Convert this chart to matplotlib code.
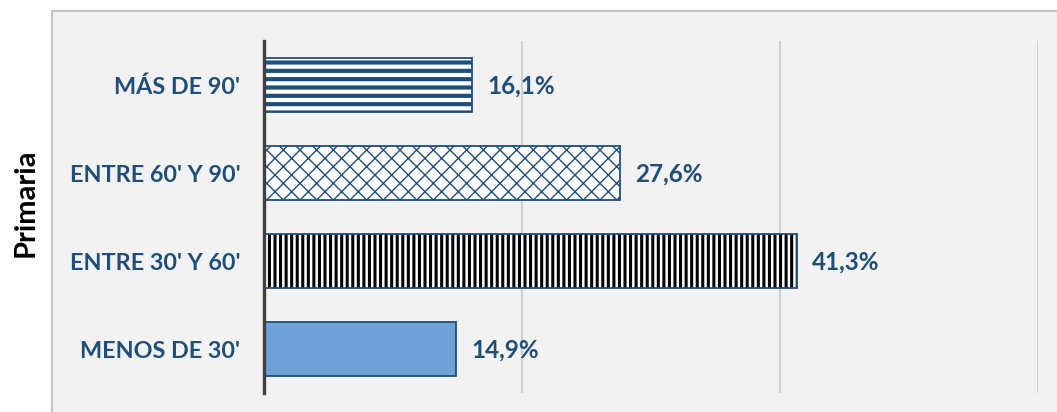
import matplotlib
matplotlib.use("Agg")
import matplotlib.pyplot as plt
from matplotlib.patches import Rectangle

categories = ["MENOS DE 30'", "ENTRE 30' Y 60'", "ENTRE 60' Y 90'", "MÁS DE 90'"]
values = [14.9, 41.3, 27.6, 16.1]
value_labels = ["14,9%", "41,3%", "27,6%", "16,1%"]
group_label = "Primaria"

DARK_BLUE = "#1f4e79"
LIGHT_BLUE = "#6fa3d8"
# fill, hatch, hatch color, hatch linewidth
styles = [
    (LIGHT_BLUE, None, None, 1.0),
    ("white", "|||", "black", 2.2),
    ("white", "xx", DARK_BLUE, 1.0),
    ("white", "--", DARK_BLUE, 3.0),
]

plt.rcParams["font.family"] = ["Lato", "DejaVu Sans"]

fig = plt.figure(figsize=(10.57, 4.12), dpi=100)
fig.patch.set_facecolor("white")
fig.patches.append(Rectangle((52 / 1057, -0.1), 1.1, 1 - 11 / 412 + 0.1,
                             transform=fig.transFigure, facecolor="#f2f2f2",
                             edgecolor="#c4c4c4", linewidth=1.5, zorder=-5))

ax = fig.add_axes([264 / 1057, 1 - 393 / 412, (1038 - 264) / 1057, (393 - 41) / 412])
ax.set_facecolor("none")
ax.set_zorder(2)

ypos = list(range(len(categories)))
for y, v, (fc, hatch, hc, hlw) in zip(ypos, values, styles):
    with plt.rc_context({"hatch.linewidth": hlw}):
        ax.barh(y, v, height=0.61, color=fc, edgecolor=hc if hatch else DARK_BLUE,
                hatch=hatch, linewidth=0, zorder=3)
    ax.barh(y, v, height=0.61, fill=False, edgecolor=DARK_BLUE, linewidth=1.3, zorder=4)

for y, v, lab in zip(ypos, values, value_labels):
    ax.annotate(lab, (v, y), xytext=(11, -1), textcoords="offset points",
                ha="left", va="center", fontsize=17.5, fontweight="bold", color=DARK_BLUE)

ax.set_xlim(0, 60)
ax.set_ylim(-0.5, 3.5)
ax.set_xticks([20, 40, 60])
ax.xaxis.grid(True, color="#cccccc", linewidth=1.3, zorder=1)
ax.set_axisbelow(True)
ax.tick_params(axis="x", length=0, labelbottom=False)
ax.set_yticks(ypos)
ax.set_yticklabels(categories, fontsize=16.8, fontweight="bold", color=DARK_BLUE)
ax.tick_params(axis="y", length=0, pad=17)
for side in ["top", "right", "bottom"]:
    ax.spines[side].set_visible(False)
ax.spines["left"].set_color("#404040")
ax.spines["left"].set_linewidth(2.4)
ax.spines["left"].set_zorder(5)

fig.text(26 / 1057, 1 - 203 / 412, group_label, rotation=90, ha="center", va="center",
         fontsize=21, fontweight="bold", color="black")

fig.savefig("out.png", dpi=100)
